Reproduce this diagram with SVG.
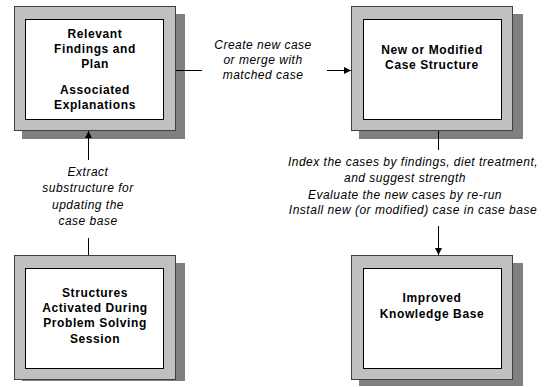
<svg xmlns="http://www.w3.org/2000/svg" width="544" height="387" viewBox="0 0 544 387">
<defs>
<style>
.shadow{fill:#808080;}
.outer{fill:#C0C0C0;stroke:#404040;stroke-width:1;}
.inner{fill:#FFFFFF;stroke:#000000;stroke-width:1;}
.title{font-family:"Liberation Sans",Arial,sans-serif;font-weight:bold;font-size:12px;letter-spacing:0.6px;fill:#000;text-anchor:middle;}
.lbl{font-family:"Liberation Sans",Arial,sans-serif;font-style:italic;font-size:12px;letter-spacing:0.5px;fill:#000;text-anchor:middle;}
.edge{stroke:#000;stroke-width:1;fill:none;}
</style>
<marker id="arr" viewBox="0 0 10 10" refX="10" refY="5" markerWidth="7" markerHeight="7" markerUnits="userSpaceOnUse" orient="auto">
<path d="M0,0 L10,5 L0,10 Z" fill="#000"/>
</marker>
</defs>
<rect width="544" height="387" fill="#FFFFFF"/>
<g id="node-findings">
<rect class="shadow" x="22" y="14" width="163" height="125"/>
<rect class="outer" x="14.5" y="6.5" width="161" height="124"/>
<rect class="inner" x="25.5" y="19.5" width="138" height="100"/>
<text class="title" x="95" y="38">Relevant</text>
<text class="title" x="95" y="53">Findings and</text>
<text class="title" x="95" y="68">Plan</text>
<text class="title" x="95" y="94">Associated</text>
<text class="title" x="95" y="109">Explanations</text>
</g>
<g id="node-newcase">
<rect class="shadow" x="359" y="14" width="164" height="125"/>
<rect class="outer" x="351.5" y="6.5" width="161" height="124"/>
<rect class="inner" x="363.5" y="19.5" width="138" height="100"/>
<text class="title" x="432" y="54">New or Modified</text>
<text class="title" x="432" y="69">Case Structure</text>
</g>
<g id="node-structures">
<rect class="shadow" x="22" y="263" width="163" height="118"/>
<rect class="outer" x="14.5" y="255.5" width="161" height="124"/>
<rect class="inner" x="25.5" y="268.5" width="138" height="100"/>
<text class="title" x="95" y="297">Structures</text>
<text class="title" x="95" y="312">Activated During</text>
<text class="title" x="95" y="327">Problem Solving</text>
<text class="title" x="95" y="343">Session</text>
</g>
<g id="node-improved">
<rect class="shadow" x="359" y="263" width="164" height="123"/>
<rect class="outer" x="351.5" y="255.5" width="161" height="124"/>
<rect class="inner" x="363.5" y="268.5" width="138" height="100"/>
<text class="title" x="432" y="302">Improved</text>
<text class="title" x="432" y="318">Knowledge Base</text>
</g>
<g id="connectors">
<line class="edge" x1="176" y1="70.5" x2="202" y2="70.5"/>
<line class="edge" x1="327" y1="70.5" x2="351" y2="70.5" marker-end="url(#arr)"/>
<line class="edge" x1="88.5" y1="160" x2="88.5" y2="131" marker-end="url(#arr)"/>
<line class="edge" x1="88.5" y1="238" x2="88.5" y2="255"/>
<line class="edge" x1="438.5" y1="131" x2="438.5" y2="150"/>
<line class="edge" x1="438.5" y1="226" x2="438.5" y2="255" marker-end="url(#arr)"/>
<text class="lbl" x="263" y="49">Create new case</text>
<text class="lbl" x="263" y="64">or merge with</text>
<text class="lbl" x="263" y="79">matched case</text>
<text class="lbl" x="88" y="176">Extract</text>
<text class="lbl" x="88" y="192">substructure for</text>
<text class="lbl" x="88" y="209">updating the</text>
<text class="lbl" x="88" y="225">case base</text>
<text class="lbl" x="413" y="166">Index the cases by findings, diet treatment,</text>
<text class="lbl" x="405" y="182">and suggest strength</text>
<text class="lbl" x="405" y="199">Evaluate the new cases by re-run</text>
<text class="lbl" x="413" y="214">Install new (or modified) case in case base</text>
</g>
</svg>
